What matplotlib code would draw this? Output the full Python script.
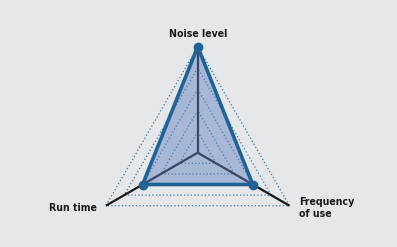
import numpy as np
import matplotlib
matplotlib.use("Agg")
import matplotlib.pyplot as plt

# radar chart data (scale 0..5)
labels = ["Noise level", "Run time", "Frequency\nof use"]
values = [5, 3, 3]
vmax = 5
levels = [1, 2, 3, 4, 5]
angles_deg = [90, 210, 330]

bg = "#e6e7e9"
line_blue = "#1f6396"
fill_blue = "#5b7fbf"
grid_blue = "#3a78ad"

ang = np.deg2rad(angles_deg)
r = np.array(values) / vmax
x = r * np.cos(ang)
y = r * np.sin(ang)

fig = plt.figure(figsize=(3.97, 2.47), dpi=100)
fig.patch.set_facecolor(bg)
ax = fig.add_axes([0, 0, 1, 1])
ax.set_facecolor(bg)
unit = 106.0
ax.set_xlim(-197.7 / unit, (397 - 197.7) / unit)
ax.set_ylim(-(247 - 152.7) / unit, 152.7 / unit)
ax.axis("off")

# dotted grid triangles
for lv in levels:
    rr = lv / vmax
    gx = np.append(rr * np.cos(ang), rr * np.cos(ang[0]))
    gy = np.append(rr * np.sin(ang), rr * np.sin(ang[0]))
    ax.plot(gx, gy, ls=(0, (1, 1.8)), color=grid_blue, lw=0.9, zorder=1)

# axes spokes
for a in ang:
    ax.plot([0, np.cos(a)], [0, np.sin(a)], color="#1a1a1a", lw=1.6, zorder=2,
            solid_capstyle="butt")

# data polygon
ax.fill(x, y, color=fill_blue, alpha=0.45, lw=0, zorder=3)
ax.plot(np.append(x, x[0]), np.append(y, y[0]), color=line_blue, lw=2.6,
        zorder=4, solid_joinstyle="miter")
ax.plot(x, y, "o", color=line_blue, ms=6, zorder=5)

font = dict(family="DejaVu Sans", stretch="condensed", fontsize=7.6,
            fontweight="bold", color="#1a1a1a")
ax.text(0, 1.0 + 0.075, labels[0], ha="center", va="bottom", **font)
lx, ly = np.cos(ang[1]), np.sin(ang[1])
ax.text(lx - 0.085, ly - 0.025, labels[1], ha="right", va="center", **font)
rx, ry = np.cos(ang[2]), np.sin(ang[2])
ax.text(rx + 0.09, ry + 0.085, labels[2], ha="left", va="top",
        linespacing=1.25, **font)

fig.savefig("out.png", dpi=100, facecolor=bg)
